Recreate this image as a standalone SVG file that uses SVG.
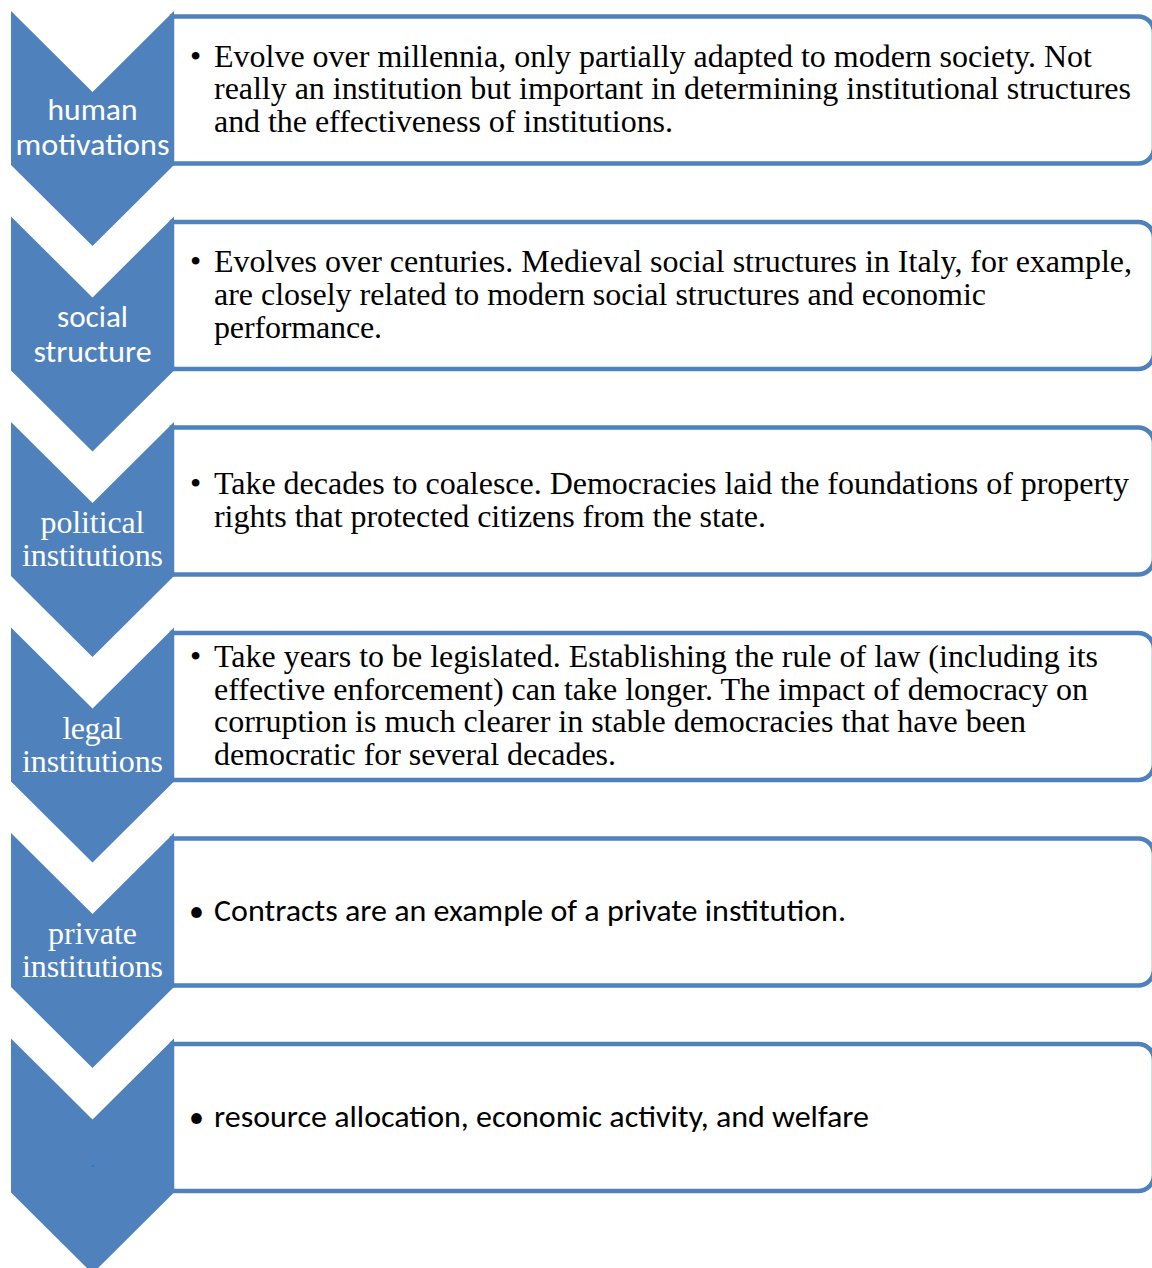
<svg xmlns="http://www.w3.org/2000/svg" width="1152" height="1268" viewBox="0 0 1152 1268">
<style>
.chev{fill:#4F81BD;}
.box{fill:#FFFFFF;stroke:#4F81BD;stroke-width:4.5;}
.serif{font-family:"Liberation Serif","Times New Roman",serif;font-size:32px;fill:#000000;}
.sans{font-family:Carlito,"Open Sans","Liberation Sans",sans-serif;font-size:30px;fill:#000000;}
.lsans{font-family:Carlito,"Open Sans","Liberation Sans",sans-serif;font-size:30px;fill:#FFFFFF;text-anchor:middle;}
.lserif{font-family:"Liberation Serif","Times New Roman",serif;font-size:32px;fill:#FFFFFF;text-anchor:middle;}
</style>
<defs>
<path id="boxshape" d="M172,0 H1138 A16,16 0 0 1 1154,16 V131 A16,16 0 0 1 1138,147 H172 Z"/>
<polygon id="chevshape" points="11,0 92.5,81 174,0 174,154 92.5,235 11,154"/>
</defs>
<rect width="1152" height="1268" fill="#FFFFFF"/>

<g id="node1" transform="translate(0,11)">
<use href="#boxshape" class="box" transform="translate(0,5.5)"/>
<use href="#chevshape" class="chev"/>
<text class="lsans" x="92.5" y="109" textLength="90" lengthAdjust="spacingAndGlyphs">human</text>
<text class="lsans" x="92.5" y="144" textLength="154" lengthAdjust="spacingAndGlyphs">motivations</text>
<text class="serif" x="190" y="55.5">•</text>
<text class="serif" x="214" y="55.5" textLength="878" lengthAdjust="spacing">Evolve over millennia, only partially adapted to modern society. Not</text>
<text class="serif" x="214" y="88.3" textLength="917" lengthAdjust="spacing">really an institution but important in determining institutional structures</text>
<text class="serif" x="214" y="121" textLength="459" lengthAdjust="spacing">and the effectiveness of institutions.</text>
</g>

<g id="node2" transform="translate(0,216.5)">
<use href="#boxshape" class="box" transform="translate(0,5.5)"/>
<use href="#chevshape" class="chev"/>
<text class="lsans" x="92.5" y="110" textLength="71" lengthAdjust="spacingAndGlyphs">social</text>
<text class="lsans" x="92.5" y="145.5" textLength="118" lengthAdjust="spacingAndGlyphs">structure</text>
<text class="serif" x="190" y="55.2">•</text>
<text class="serif" x="214" y="55.2" textLength="918" lengthAdjust="spacing">Evolves over centuries. Medieval social structures in Italy, for example,</text>
<text class="serif" x="214" y="88.3" textLength="772" lengthAdjust="spacing">are closely related to modern social structures and economic</text>
<text class="serif" x="214" y="121.5" textLength="168" lengthAdjust="spacing">performance.</text>
</g>

<g id="node3" transform="translate(0,422)">
<use href="#boxshape" class="box" transform="translate(0,5.5)"/>
<use href="#chevshape" class="chev"/>
<text class="lserif" x="92.5" y="111" textLength="104" lengthAdjust="spacing">political</text>
<text class="lserif" x="92.5" y="144" textLength="141" lengthAdjust="spacing">institutions</text>
<text class="serif" x="190" y="72">•</text>
<text class="serif" x="214" y="72" textLength="915" lengthAdjust="spacing">Take decades to coalesce. Democracies laid the foundations of property</text>
<text class="serif" x="214" y="105" textLength="552" lengthAdjust="spacing">rights that protected citizens from the state.</text>
</g>

<g id="node4" transform="translate(0,627.5)">
<use href="#boxshape" class="box" transform="translate(0,5.5)"/>
<use href="#chevshape" class="chev"/>
<text class="lserif" x="92.5" y="111.5" textLength="60" lengthAdjust="spacing">legal</text>
<text class="lserif" x="92.5" y="144.5" textLength="141" lengthAdjust="spacing">institutions</text>
<text class="serif" x="190" y="39.2">•</text>
<text class="serif" x="214" y="39.2" textLength="884" lengthAdjust="spacing">Take years to be legislated. Establishing the rule of law (including its</text>
<text class="serif" x="214" y="72" textLength="874" lengthAdjust="spacing">effective enforcement) can take longer. The impact of democracy on</text>
<text class="serif" x="214" y="104.8" textLength="812" lengthAdjust="spacing">corruption is much clearer in stable democracies that have been</text>
<text class="serif" x="214" y="137.5" textLength="402" lengthAdjust="spacing">democratic for several decades.</text>
</g>

<g id="node5" transform="translate(0,833)">
<use href="#boxshape" class="box" transform="translate(0,5.5)"/>
<use href="#chevshape" class="chev"/>
<text class="lserif" x="92.5" y="111" textLength="89" lengthAdjust="spacing">private</text>
<text class="lserif" x="92.5" y="144" textLength="141" lengthAdjust="spacing">institutions</text>
<text class="sans" x="189" y="88">•</text>
<text class="sans" x="214" y="88" textLength="632" lengthAdjust="spacingAndGlyphs">Contracts are an example of a private institution.</text>
</g>

<g id="node6" transform="translate(0,1038.5)">
<use href="#boxshape" class="box" transform="translate(0,5.5)"/>
<use href="#chevshape" class="chev"/>
<text x="92.5" y="128" font-family="Liberation Sans, sans-serif" font-size="12" font-weight="bold" fill="#1F78D0" text-anchor="middle">.</text>
<text class="sans" x="189" y="88">•</text>
<text class="sans" x="214" y="88" textLength="655" lengthAdjust="spacingAndGlyphs">resource allocation, economic activity, and welfare</text>
</g>

<g id="connectors"></g>
</svg>
